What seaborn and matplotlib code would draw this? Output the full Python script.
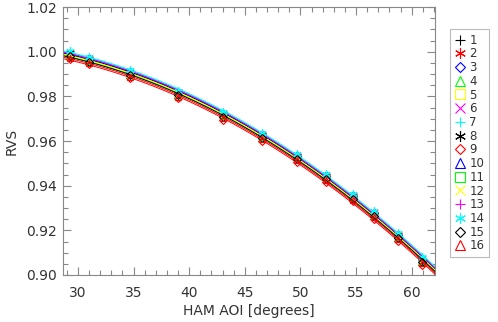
import matplotlib
matplotlib.use("Agg")
import matplotlib.pyplot as plt
import numpy as np
import seaborn as sns
from matplotlib.ticker import MultipleLocator, FormatStrFormatter

# HAM angle of incidence (deg) for each measurement
aoi = [29.3, 31.0, 34.7, 39.0, 43.0, 46.5, 49.7, 52.3, 54.7, 56.6, 58.8, 60.9]

# RVS per detector (16 detectors)
rvs = {
    "1":  [0.9992, 0.9968, 0.9906, 0.9816, 0.9720, 0.9627, 0.9532, 0.9443, 0.9354, 0.9276, 0.9178, 0.9070],
    "2":  [0.9997, 0.9972, 0.9911, 0.9822, 0.9725, 0.9631, 0.9537, 0.9447, 0.9358, 0.9281, 0.9183, 0.9076],
    "3":  [0.9991, 0.9967, 0.9907, 0.9815, 0.9721, 0.9626, 0.9531, 0.9444, 0.9353, 0.9277, 0.9177, 0.9071],
    "4":  [0.9989, 0.9965, 0.9903, 0.9813, 0.9716, 0.9624, 0.9529, 0.9440, 0.9351, 0.9273, 0.9176, 0.9066],
    "5":  [0.9984, 0.9960, 0.9898, 0.9809, 0.9712, 0.9619, 0.9525, 0.9435, 0.9346, 0.9268, 0.9171, 0.9062],
    "6":  [0.9995, 0.9971, 0.9909, 0.9819, 0.9723, 0.9630, 0.9535, 0.9446, 0.9357, 0.9279, 0.9181, 0.9073],
    "7":  [1.0000, 0.9976, 0.9914, 0.9824, 0.9728, 0.9635, 0.9540, 0.9451, 0.9362, 0.9284, 0.9186, 0.9078],
    "8":  [0.9993, 0.9968, 0.9905, 0.9817, 0.9719, 0.9628, 0.9532, 0.9442, 0.9355, 0.9275, 0.9179, 0.9069],
    "9":  [0.9967, 0.9943, 0.9881, 0.9791, 0.9696, 0.9602, 0.9507, 0.9418, 0.9330, 0.9251, 0.9154, 0.9045],
    "10": [0.9994, 0.9970, 0.9908, 0.9818, 0.9722, 0.9629, 0.9534, 0.9445, 0.9356, 0.9278, 0.9180, 0.9072],
    "11": [0.9982, 0.9958, 0.9896, 0.9806, 0.9710, 0.9617, 0.9522, 0.9433, 0.9344, 0.9266, 0.9168, 0.9060],
    "12": [0.9987, 0.9963, 0.9901, 0.9811, 0.9715, 0.9622, 0.9527, 0.9438, 0.9349, 0.9271, 0.9173, 0.9065],
    "13": [0.9996, 0.9972, 0.9910, 0.9820, 0.9724, 0.9631, 0.9536, 0.9447, 0.9358, 0.9280, 0.9182, 0.9074],
    "14": [1.0002, 0.9978, 0.9916, 0.9826, 0.9730, 0.9637, 0.9542, 0.9453, 0.9364, 0.9286, 0.9188, 0.9080],
    "15": [0.9980, 0.9956, 0.9894, 0.9804, 0.9708, 0.9615, 0.9520, 0.9431, 0.9342, 0.9264, 0.9166, 0.9058],
    "16": [0.9974, 0.9950, 0.9888, 0.9798, 0.9702, 0.9609, 0.9514, 0.9425, 0.9336, 0.9258, 0.9160, 0.9052],
}

# IDL style colour / symbol cycles
colors = ["black", "red", "blue", "#00ff00", "#ffff00", "magenta", "cyan"]
asterisk = (6, 2, 0)
symbols = ["+", asterisk, "D", "^", "s", "x"]
sizes = {"+": 6, "x": 5, "D": 4, "^": 5, "s": 5}

sns.set_style("ticks")
plt.rcParams["font.family"] = ["DejaVu Sans"]
plt.rcParams["xtick.direction"] = "in"
plt.rcParams["ytick.direction"] = "in"

fig = plt.figure(figsize=(4.98, 3.22), dpi=100)
ax = fig.add_axes([0.1265, 0.146, 0.747, 0.832])
x_min, x_max = 28.65, 62.1
ax.set_xlim(x_min, x_max)
ax.set_ylim(0.90, 1.02)

for i, (name, vals) in enumerate(rvs.items()):
    c = colors[i % len(colors)]
    m = symbols[i % len(symbols)]
    ms = sizes.get(m, 6) if isinstance(m, str) else 6
    # quadratic fit line across the full axis range
    sns.regplot(x=np.array(aoi), y=np.array(vals), order=2, ci=None,
                truncate=False, scatter=False, ax=ax,
                line_kws={"color": c, "lw": 0.7})
    ax.plot(aoi, vals, ls="none", marker=m, ms=ms, mfc="none", mec=c,
            mew=0.8, label=name)

ax.set_xlim(x_min, x_max)
ax.set_ylim(0.90, 1.02)
ax.xaxis.set_major_locator(MultipleLocator(5))
ax.xaxis.set_minor_locator(MultipleLocator(1))
ax.yaxis.set_major_locator(MultipleLocator(0.02))
ax.yaxis.set_minor_locator(MultipleLocator(0.005))
ax.yaxis.set_major_formatter(FormatStrFormatter("%.2f"))
ax.tick_params(which="both", top=True, right=True, colors="#888888",
               labelcolor="#333333", labelsize=10, width=0.8)
ax.tick_params(which="major", length=6)
ax.tick_params(which="minor", length=3.5)
ax.tick_params(axis="x", which="major", pad=8)
ax.tick_params(axis="y", which="major", pad=4.5)
for sp in ax.spines.values():
    sp.set_color("#888888")
    sp.set_linewidth(0.8)

ax.set_xlabel("HAM AOI [degrees]", fontsize=10, color="#333333", labelpad=3)
ax.set_ylabel("RVS", fontsize=10, color="#333333", labelpad=5)

leg = ax.legend(loc="upper left", bbox_to_anchor=(1.04, 0.918),
                borderaxespad=0, fontsize=8.5, frameon=True, fancybox=False,
                handlelength=0.9, handletextpad=0.35, labelspacing=0.06,
                borderpad=0.4, numpoints=1, markerscale=1.3)
leg.get_frame().set_edgecolor("#aaaaaa")
leg.get_frame().set_linewidth(0.8)
for t in leg.get_texts():
    t.set_color("#333333")

fig.savefig("out.png", dpi=100)
